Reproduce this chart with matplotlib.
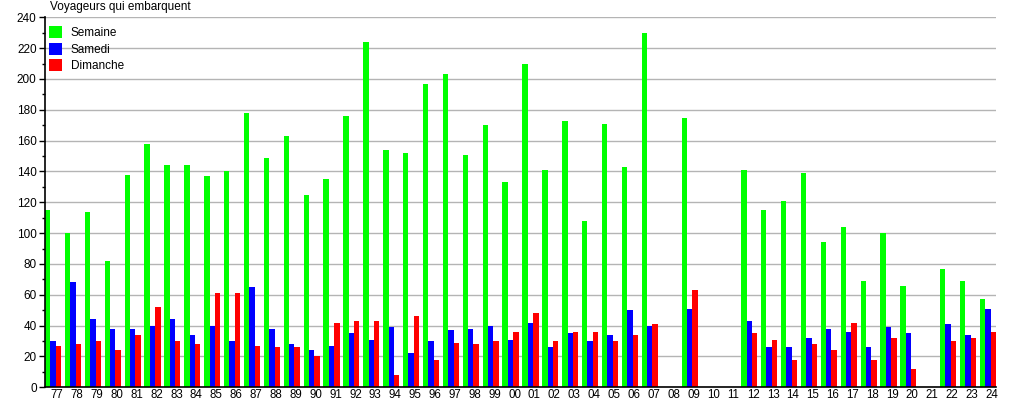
# Voyageurs qui embarquent: weekday / Saturday / Sunday boardings per year, 1977-2024.

import matplotlib

matplotlib.use("Agg")
import matplotlib.pyplot as plt
import numpy as np
from matplotlib.ticker import MultipleLocator

plt.rcParams["font.family"] = ["Liberation Sans", "DejaVu Sans"]

nan = np.nan

years = [
    "77", "78", "79", "80", "81", "82", "83", "84", "85", "86", "87", "88",
    "89", "90", "91", "92", "93", "94", "95", "96", "97", "98", "99", "00",
    "01", "02", "03", "04", "05", "06", "07", "08", "09", "10", "11", "12",
    "13", "14", "15", "16", "17", "18", "19", "20", "21", "22", "23", "24",
]

semaine = [
    115, 100, 114, 82, 138, 158, 144, 144, 137, 140, 178, 149,
    163, 125, 135, 176, 224, 154, 152, 197, 203, 151, 170, 133,
    210, 141, 173, 108, 171, 143, 230, nan, 175, nan, nan, 141,
    115, 121, 139, 94, 104, 69, 100, 66, nan, 77, 69, 57,
]

samedi = [
    30, 68, 44, 38, 38, 40, 44, 34, 40, 30, 65, 38,
    28, 24, 27, 35, 31, 39, 22, 30, 37, 38, 40, 31,
    42, 26, 35, 30, 34, 50, 40, nan, 51, nan, nan, 43,
    26, 26, 32, 38, 36, 26, 39, 35, nan, 41, 34, 51,
]

dimanche = [
    27, 28, 30, 24, 34, 52, 30, 28, 61, 61, 27, 26,
    26, 20, 42, 43, 43, 8, 46, 18, 29, 28, 30, 36,
    48, 30, 36, 36, 30, 34, 41, nan, 63, nan, nan, 35,
    31, 18, 28, 24, 42, 18, 32, 12, nan, 30, 32, 36,
]

series = [
    ("Semaine", semaine, "#00ff00"),
    ("Samedi", samedi, "#0000ff"),
    ("Dimanche", dimanche, "#ff0000"),
]


def main():
    fig = plt.figure(figsize=(10.15, 4.0), dpi=100)
    ax = fig.add_axes([45 / 1015, 12.7 / 400, 951 / 1015, 370 / 400])

    x = np.arange(len(years))
    width = 0.27
    for i, (label, values, color) in enumerate(series):
        ax.bar(x + (i - 1) * width, values, width, color=color, label=label,
               linewidth=0, zorder=2)

    ax.set_xlim(-1.5 * width, len(years) - 1 + 1.5 * width)
    ax.set_ylim(0, 240)

    ax.yaxis.set_major_locator(MultipleLocator(20))
    ax.yaxis.set_minor_locator(MultipleLocator(10))
    ax.grid(axis="y", which="major", color="#b4b4b4", linewidth=1, zorder=0)
    ax.set_axisbelow(True)

    ax.set_xticks(x + 0.2)
    ax.set_xticklabels(years)
    ax.tick_params(axis="x", length=0, pad=1, labelsize=8.3)
    ax.tick_params(axis="y", which="major", length=4, width=1, labelsize=8.5, pad=2)
    ax.tick_params(axis="y", which="minor", length=2.5, width=1)

    for side in ("top", "right"):
        ax.spines[side].set_visible(False)
    for side in ("left", "bottom"):
        ax.spines[side].set_color("black")
        ax.spines[side].set_linewidth(1.2)

    ax.legend(loc="upper left", bbox_to_anchor=(0.0, 0.985), frameon=False,
              fontsize=8.5, handlelength=1.15, handleheight=1.15,
              handletextpad=0.75, labelspacing=0.3, borderaxespad=0.2,
              borderpad=0.1)

    fig.text(50 / 1015, 1 - 7 / 400, "Voyageurs qui embarquent", fontsize=8.5,
             va="center", ha="left")

    fig.savefig("out.png", dpi=100)
    plt.close(fig)


if __name__ == "__main__":
    main()
